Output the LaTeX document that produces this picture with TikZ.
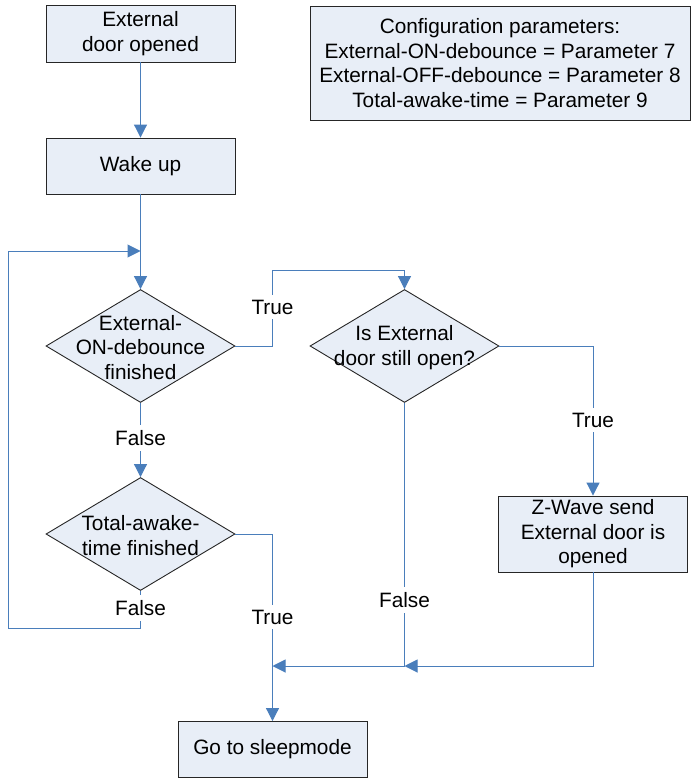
\documentclass[tikz,border=0pt]{standalone}
\usepackage{fontspec}
\setmainfont{Liberation Sans}
\usetikzlibrary{shapes.geometric,arrows.meta}
\definecolor{boxfill}{HTML}{E8EEF7}
\definecolor{linkblue}{HTML}{4A7EBB}
\begin{document}
\begin{tikzpicture}[x=1pt,y=-1pt,
  every node/.style={font=\fontsize{20.8}{24.5}\selectfont},
  procbox/.style={draw=black!85, fill=boxfill, line width=0.9pt, minimum width=189pt, minimum height=57pt, inner sep=0pt, align=center},
  decision/.style={diamond, draw=black!85, fill=boxfill, line width=0.9pt, minimum width=189pt, minimum height=113pt, inner sep=0pt},
  dtext/.style={align=center, inner sep=0pt, yshift=-1.5pt},
  link/.style={draw=linkblue, line width=1pt},
  arr/.style={link, -{Triangle[length=13pt,width=13pt]}},
  lbl/.style={fill=white, inner xsep=2pt, inner ysep=5pt}]
\useasboundingbox (0,0) rectangle (698,778);

% process boxes
\node[procbox] (start) at (140.5,33.5) {External\\door opened};
\node[procbox, minimum height=56pt] (wake) at (140.5,166) {Wake up};
\node[procbox, minimum width=380pt, minimum height=114pt] (config) at (500,63)
  {Configuration parameters:\\External-ON-debounce = Parameter 7\\External-OFF-debounce = Parameter 8\\Total-awake-time = Parameter 9};
\node[procbox, minimum height=76pt] (zw) at (593,534) {Z-Wave send\\External door is\\opened};
\node[procbox, minimum height=56pt] (sleep) at (272.5,749.5) {Go to sleepmode};

% decisions
\node[decision] (d1) at (140.5,346) {};
\node[dtext] (d1t) at (d1.center) {External-\\ON-debounce\\finished};
\node[decision] (d2) at (404.5,346) {};
\node[dtext] (d2t) at (d2.center) {Is External\\door still open?};
\node[decision] (d3) at (140.5,534) {};
\node[dtext] (d3t) at (d3.center) {Total-awake-\\time finished};

% routing points
\coordinate (loopin) at (140.5,251);
\coordinate (lcorner) at (140.5,628);
\coordinate (lbot) at (8,628);
\coordinate (ltop) at (8,251);
\coordinate (t1) at (272.5,270);
\coordinate (m1) at (272.5,666);
\coordinate (m2) at (404.5,666);

% connectors
\draw[arr] (start) -- (wake);
\draw[arr] (wake) -- (d1);
\draw[arr] (d3.south) -- (lcorner) -- (lbot) -- (ltop) -- (loopin);
\draw[arr] (d1.east) -| (t1) -| (d2.north);
\draw[arr] (d1) -- (d3);
\draw[arr] (d2.east) -| (zw.north);
\draw[arr] (zw.south) |- (m2);
\draw[link] (d2.south) -- (m2);
\draw[arr] (m2) -- (m1);
\draw[arr] (d3.east) -| (sleep.north);

% connector labels
\node[lbl] (lt1) at (272.5,307) {True};
\node[lbl] (lf1) at (140.5,438) {False};
\node[lbl] (lt2) at (593,420) {True};
\node[lbl] (lf2) at (404.5,600) {False};
\node[lbl] (lf3) at (140.5,608) {False};
\node[lbl] (lt3) at (272.5,617) {True};
\end{tikzpicture}
\end{document}
